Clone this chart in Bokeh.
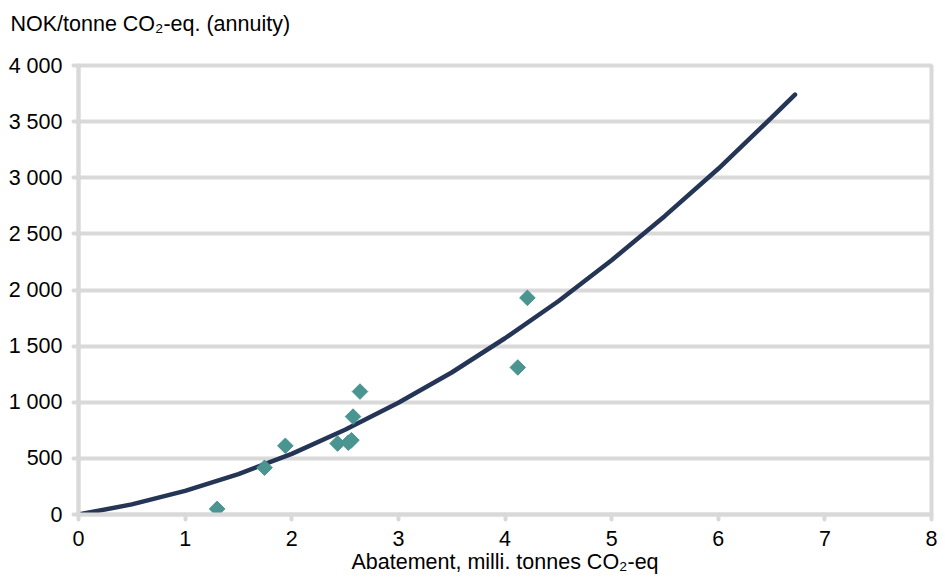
import math
from bokeh.plotting import figure
from bokeh.models import Range1d, FixedTicker, Title
from bokeh.embed import file_html
from bokeh.resources import INLINE

# Observed measures (abatement, milli. tonnes CO2-eq ; cost NOK/tonne)
abatement = [1.30, 1.745, 1.94, 2.43, 2.53, 2.56, 2.575, 2.64, 4.12, 4.21]
cost = [50, 417, 612, 632, 640, 662, 872, 1095, 1310, 1930]

# Trend curve
curve_x = [0, 0.5, 1.0, 1.5, 2.0, 2.5, 3.0, 3.5, 4.0, 4.5, 5.0, 5.5, 6.0, 6.5, 6.72]
curve_y = [0, 90, 210, 360, 540, 755, 995, 1265, 1570, 1900, 2265, 2660, 3080, 3535, 3740]

x_ticks = [0, 1, 2, 3, 4, 5, 6, 7, 8]
y_ticks = [0, 500, 1000, 1500, 2000, 2500, 3000, 3500, 4000]
y_tick_labels = ["0", "500", "1 000", "1 500", "2 000", "2 500", "3 000", "3 500", "4 000"]

GRAY = "#d9d9d9"
FONT = "Liberation Sans"
FS = "21.5px"

p = figure(width=937, height=576, output_backend="svg", toolbar_location=None,
           x_range=Range1d(0, 8), y_range=Range1d(0, 4000),
           min_border_left=78, min_border_right=6, min_border_top=65, min_border_bottom=61)

p.outline_line_color = GRAY
p.outline_line_width = 4
p.xgrid.grid_line_color = None
p.ygrid.grid_line_color = GRAY
p.ygrid.grid_line_width = 4

p.xaxis.ticker = FixedTicker(ticks=x_ticks)
p.yaxis.ticker = FixedTicker(ticks=y_ticks)
p.yaxis.major_label_overrides = {t: l for t, l in zip(y_ticks, y_tick_labels)}

for ax in (p.xaxis[0], p.yaxis[0]):
    ax.axis_line_color = GRAY
    ax.axis_line_width = 4
    ax.major_tick_line_color = GRAY
    ax.major_tick_line_width = 4
    ax.major_tick_line_cap = "round"
    ax.major_tick_in = 0
    ax.major_tick_out = 5
    ax.minor_tick_line_color = None
    ax.major_label_text_font = FONT
    ax.major_label_text_font_size = FS
    ax.major_label_text_color = "#000000"

p.xaxis.major_label_standoff = 11
p.yaxis.major_label_standoff = 11
p.xaxis.axis_label = "Abatement, milli. tonnes CO\u2082-eq"
p.xaxis.axis_label_text_font = FONT
p.xaxis.axis_label_text_font_size = FS
p.xaxis.axis_label_text_font_style = "normal"
p.xaxis.axis_label_text_color = "#000000"
p.xaxis.axis_label_standoff = 1

p.line(curve_x, curve_y, line_color="#253555", line_width=4.5, line_cap="round")
p.scatter(abatement, cost, marker="square", size=11, angle=math.pi / 4,
          fill_color="#4a9592", line_color="#4a9592")

# second (blank) line lifts the title away from the plot frame
title = Title(text="NOK/tonne CO\u2082-eq. (annuity)\n ", align="left", offset=-68,
              text_font=FONT, text_font_size=FS, text_font_style="normal",
              text_line_height=1.0, text_color="#000000", standoff=12)
p.add_layout(title, "above")

open("out.html", "w").write(file_html(p, INLINE))
